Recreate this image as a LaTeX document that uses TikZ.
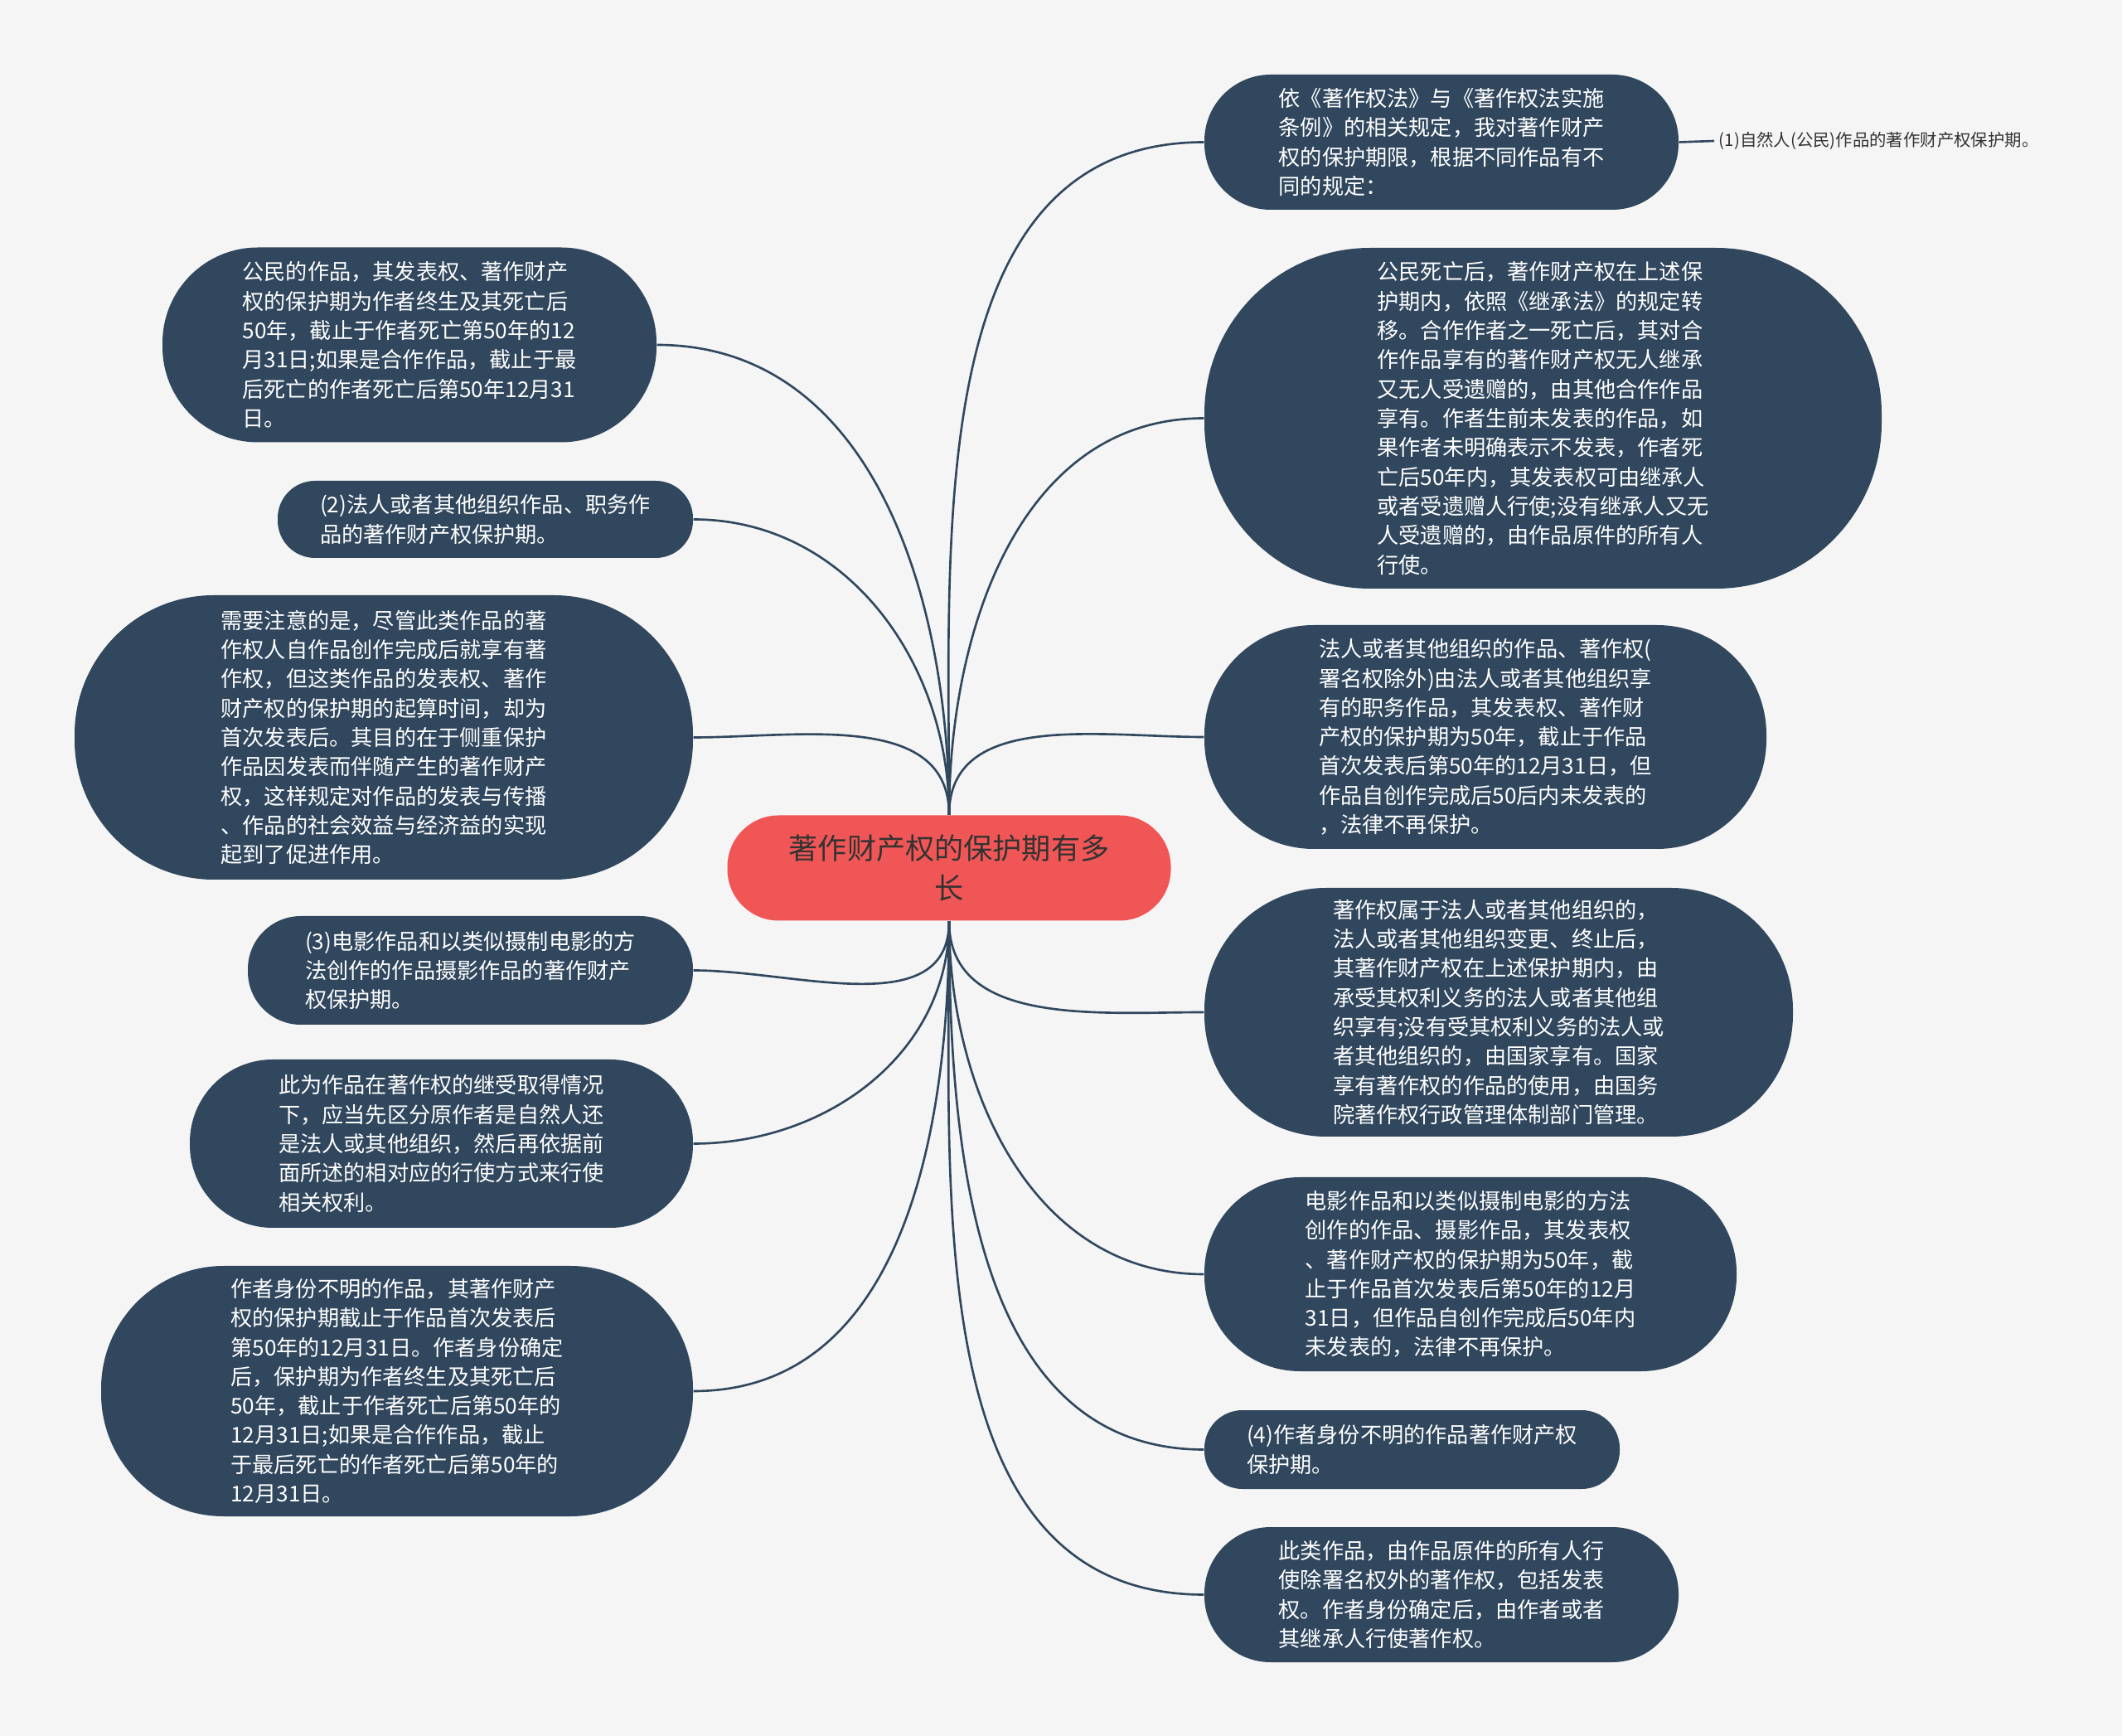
\documentclass[tikz,border=0pt]{standalone}
\usepackage{fontspec}
\setmainfont{Noto Sans CJK SC}
\usepackage{xcolor}
\definecolor{topicblue}{RGB}{48, 71, 94}
\definecolor{rootred}{RGB}{240, 86, 86}
\definecolor{paper}{RGB}{245, 245, 245}
\definecolor{inkgray}{RGB}{51, 51, 51}
\newcommand{\leaffont}{\fontsize{7.45}{10.05}\selectfont}
\newcommand{\rootfont}{\fontsize{10}{13.9}\selectfont}
\newcommand{\subfont}{\fontsize{5.8}{7}\selectfont}

\begin{document}
\begin{tikzpicture}[
    topic/.style={rectangle, fill=topicblue, text=white, font=\leaffont, align=left, inner sep=0pt},
    root/.style={rectangle, fill=rootred, text=inkgray, font=\rootfont, align=center, inner sep=0pt},
    link/.style={draw=topicblue, line width=0.75pt},
]
    % Canvas
    \fill[paper] (0,0) rectangle (25.6,-20.94);
    \useasboundingbox (0,0) rectangle (25.6,-20.94);

    % Central topic
    \node[root, minimum width=5.35cm, minimum height=1.27cm, rounded corners=0.62cm] (root) at (11.45,-10.47) {著作财产权的保护期有多\\长};

    % Left branch
    \node[topic, minimum width=5.96cm, minimum height=2.35cm, rounded corners=1.15cm] (civil) at (4.94,-4.16) {
        公民的作品，其发表权、著作财产\\
        权的保护期为作者终生及其死亡后\\
        50年，截止于作者死亡第50年的12\\
        月31日;如果是合作作品，截止于最\\
        后死亡的作者死亡后第50年12月31\\
        日。};
    \node[topic, minimum width=5.01cm, minimum height=0.93cm, rounded corners=0.45cm] (duty) at (5.855,-6.265) {
        (2)法人或者其他组织作品、职务作\\
        品的著作财产权保护期。};
    \node[topic, minimum width=7.46cm, minimum height=3.43cm, rounded corners=1.68cm] (notice) at (4.63,-8.895) {
        需要注意的是，尽管此类作品的著\\
        作权人自作品创作完成后就享有著\\
        作权，但这类作品的发表权、著作\\
        财产权的保护期的起算时间，却为\\
        首次发表后。其目的在于侧重保护\\
        作品因发表而伴随产生的著作财产\\
        权，这样规定对作品的发表与传播\\
        、作品的社会效益与经济益的实现\\
        起到了促进作用。};
    \node[topic, minimum width=5.37cm, minimum height=1.31cm, rounded corners=0.64cm] (film) at (5.675,-11.705) {
        (3)电影作品和以类似摄制电影的方\\
        法创作的作品摄影作品的著作财产\\
        权保护期。};
    \node[topic, minimum width=6.07cm, minimum height=2.03cm, rounded corners=1.0cm] (inherit) at (5.325,-13.795) {
        此为作品在著作权的继受取得情况\\
        下，应当先区分原作者是自然人还\\
        是法人或其他组织，然后再依据前\\
        面所述的相对应的行使方式来行使\\
        相关权利。};
    \node[topic, minimum width=7.14cm, minimum height=3.02cm, rounded corners=1.48cm] (anon) at (4.79,-16.78) {
        作者身份不明的作品，其著作财产\\
        权的保护期截止于作品首次发表后\\
        第50年的12月31日。作者身份确定\\
        后，保护期为作者终生及其死亡后\\
        50年，截止于作者死亡后第50年的\\
        12月31日;如果是合作作品，截止\\
        于最后死亡的作者死亡后第50年的\\
        12月31日。};

    % Right branch
    \node[topic, minimum width=5.72cm, minimum height=1.63cm, rounded corners=0.8cm] (intro) at (17.39,-1.715) {
        依《著作权法》与《著作权法实施\\
        条例》的相关规定，我对著作财产\\
        权的保护期限，根据不同作品有不\\
        同的规定：};
    \node[topic, minimum width=8.17cm, minimum height=4.11cm, rounded corners=2.0cm] (death) at (18.615,-5.045) {
        公民死亡后，著作财产权在上述保\\
        护期内，依照《继承法》的规定转\\
        移。合作作者之一死亡后，其对合\\
        作作品享有的著作财产权无人继承\\
        又无人受遗赠的，由其他合作作品\\
        享有。作者生前未发表的作品，如\\
        果作者未明确表示不发表，作者死\\
        亡后50年内，其发表权可由继承人\\
        或者受遗赠人行使;没有继承人又无\\
        人受遗赠的，由作品原件的所有人\\
        行使。};
    \node[topic, minimum width=6.78cm, minimum height=2.70cm, rounded corners=1.32cm] (legal) at (17.92,-8.89) {
        法人或者其他组织的作品、著作权(\\
        署名权除外)由法人或者其他组织享\\
        有的职务作品，其发表权、著作财\\
        产权的保护期为50年，截止于作品\\
        首次发表后第50年的12月31日，但\\
        作品自创作完成后50后内未发表的\\
        ，法律不再保护。};
    \node[topic, minimum width=7.10cm, minimum height=3.00cm, rounded corners=1.47cm] (owner) at (18.08,-12.21) {
        著作权属于法人或者其他组织的，\\
        法人或者其他组织变更、终止后，\\
        其著作财产权在上述保护期内，由\\
        承受其权利义务的法人或者其他组\\
        织享有;没有受其权利义务的法人或\\
        者其他组织的，由国家享有。国家\\
        享有著作权的作品的使用，由国务\\
        院著作权行政管理体制部门管理。};
    \node[topic, minimum width=6.42cm, minimum height=2.34cm, rounded corners=1.15cm] (movie) at (17.74,-15.37) {
        电影作品和以类似摄制电影的方法\\
        创作的作品、摄影作品，其发表权\\
        、著作财产权的保护期为50年，截\\
        止于作品首次发表后第50年的12月\\
        31日，但作品自创作完成后50年内\\
        未发表的，法律不再保护。};
    \node[topic, minimum width=5.01cm, minimum height=0.95cm, rounded corners=0.46cm] (unknown) at (17.035,-17.485) {
        (4)作者身份不明的作品著作财产权\\
        保护期。};
    \node[topic, minimum width=5.72cm, minimum height=1.63cm, rounded corners=0.8cm] (orig) at (17.39,-19.235) {
        此类作品，由作品原件的所有人行\\
        使除署名权外的著作权，包括发表\\
        权。作者身份确定后，由作者或者\\
        其继承人行使著作权。};

    % Sub topic
    \node[anchor=west, font=\subfont, text=inkgray, inner sep=1.5pt] (natural) at (20.68,-1.70) {(1)自然人(公民)作品的著作财产权保护期。};

    % Connectors
    \draw[link] (root.north) to[out=90, in=0] (civil.east);
    \draw[link] (root.north) to[out=90, in=0] (duty.east);
    \draw[link] (root.north) to[out=90, in=0] (notice.east);
    \draw[link] (root.south) to[out=-90, in=0] (film.east);
    \draw[link] (root.south) to[out=-90, in=0] (inherit.east);
    \draw[link] (root.south) to[out=-90, in=0] (anon.east);
    \draw[link] (root.north) to[out=90, in=180] (intro.west);
    \draw[link] (root.north) to[out=90, in=180] (death.west);
    \draw[link] (root.north) to[out=90, in=180] (legal.west);
    \draw[link] (root.south) to[out=-90, in=180] (owner.west);
    \draw[link] (root.south) to[out=-90, in=180] (movie.west);
    \draw[link] (root.south) to[out=-90, in=180] (unknown.west);
    \draw[link] (root.south) to[out=-90, in=180] (orig.west);
    \draw[link] (intro.east) -- (natural.west);
\end{tikzpicture}
\end{document}
